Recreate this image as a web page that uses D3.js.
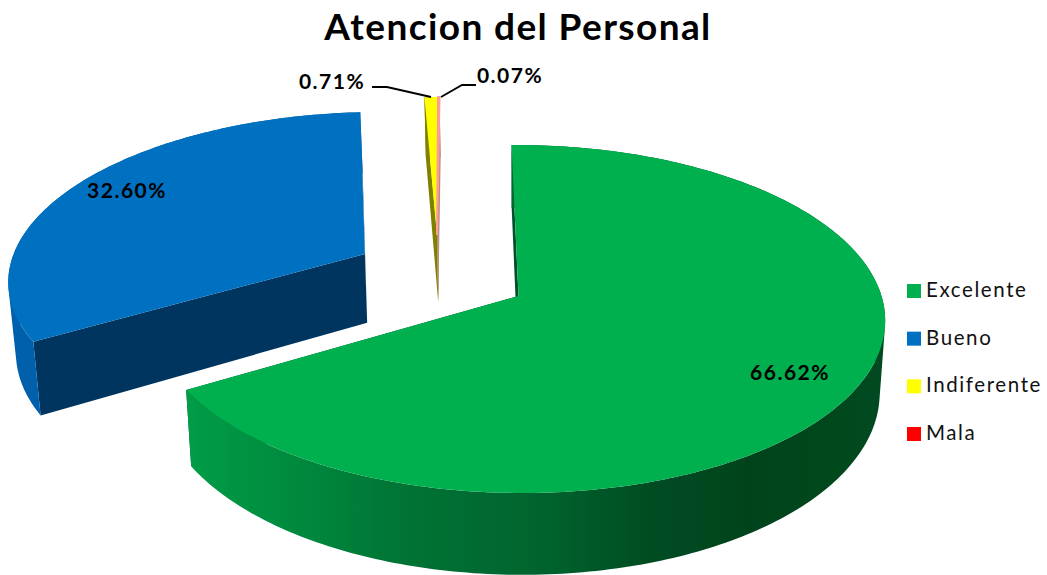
<!DOCTYPE html>
<html>
<head>
<meta charset="utf-8">
<script src="https://cdn.jsdelivr.net/npm/d3@7"></script>
<style>
html, body { margin: 0; padding: 0; background: #fff; overflow: hidden; }
svg { display: block; }
text { font-family: Lato, "Open Sans", sans-serif; fill: #000; }
.title { font-size: 37px; font-weight: 700; letter-spacing: 1.4px; }
.pct { font-size: 21px; font-weight: 700; letter-spacing: 1.5px; }
.legend text { font-size: 20.5px; letter-spacing: 1.6px; fill: #111; }
</style>
</head>
<body>
<svg width="1047" height="575"></svg>
<script>
// Data
var categories = ["Excelente", "Bueno", "Indiferente", "Mala"];
var values = [66.62, 32.60, 0.71, 0.07];
var colors = ["#00B050", "#0070C0", "#FFFF00", "#FF0000"];
var wallColors = ["#00502A", "#003660", "#808000", "#B89080"];
var rimColors = ["url(#rimGreen)", "#0061AC", "#808000", "#B89080"];

// The svg
var svg = d3.select("svg");

// Tilted disc with some perspective, the far side is smaller
var cx = 518.5, cy = 296, rx = 363, ry = 171, persp = 0.132, shear = 0.02;
var depth = 71, shrink = 0.985;

function project(px, py) {
    var s = 1 / (1 + persp * py);
    var y = -ry * py * s;
    return [cx + rx * px * s + shear * y, cy + y, s];
}

// bottom face sits lower and slightly narrower
function projectBottom(px, py) {
    var p = project(px, py);
    return [cx + (p[0] - cx) * shrink, p[1] + depth * p[2]];
}

// slices pulled out of the pie, in disc units
var offsets = [[0, 0], [-0.435, 0.254], [-0.232, 0.375], [-0.232, 0.375]];

var pie = d3.pie().sort(null).value(function(d) { return d; })
    .startAngle(-0.7 * Math.PI / 180)
    .endAngle(359.3 * Math.PI / 180);
var slices = pie(values);

var line = d3.line();

function rimPoint(a, off) {
    return [off[0] + Math.sin(a), off[1] + Math.cos(a)];
}

function arcAngles(d) {
    var n = Math.max(2, Math.ceil((d.endAngle - d.startAngle) * 60));
    return d3.range(n + 1).map(function(i) {
        return d.startAngle + (d.endAngle - d.startAngle) * i / n;
    });
}

function topPath(d, i) {
    var off = offsets[i];
    var pts = [project(off[0], off[1])];
    arcAngles(d).forEach(function(a) {
        var q = rimPoint(a, off);
        pts.push(project(q[0], q[1]));
    });
    return line(pts.map(function(p) { return [p[0], p[1]]; })) + "Z";
}

// one quad per arc step, all wound the same way so the silhouette stays closed
function rimPath(d, i) {
    var off = offsets[i];
    var angles = arcAngles(d);
    var out = "";
    d3.pairs(angles).forEach(function(pair) {
        var q0 = rimPoint(pair[0], off), q1 = rimPoint(pair[1], off);
        var quad = [project(q0[0], q0[1]), project(q1[0], q1[1]),
            projectBottom(q1[0], q1[1]), projectBottom(q0[0], q0[1])]
            .map(function(p) { return [p[0], p[1]]; });
        if (d3.polygonArea(quad) < 0) quad.reverse();
        out += line(quad) + "Z";
    });
    return out;
}

function wallPath(d, i, a) {
    var off = offsets[i];
    var q = rimPoint(a, off);
    var pts = [project(off[0], off[1]), project(q[0], q[1]),
        projectBottom(q[0], q[1]), projectBottom(off[0], off[1])];
    return line(pts.map(function(p) { return [p[0], p[1]]; })) + "Z";
}

// gradient on the green side
var defs = svg.append("defs");
var grad = defs.append("linearGradient")
    .attr("id", "rimGreen")
    .attr("gradientUnits", "userSpaceOnUse")
    .attr("x1", 190).attr("x2", 890).attr("y1", 0).attr("y2", 0);
[[0, "#009C46"], [0.15, "#008A3E"], [0.3, "#007434"], [0.5, "#00642E"], [0.66, "#004C22"], [0.8, "#00431D"], [1, "#004A20"]]
    .forEach(function(s) {
        grad.append("stop").attr("offset", s[0]).attr("stop-color", s[1]);
    });
defs.append("filter").attr("id", "soft")
    .attr("x", "-5%").attr("y", "-5%").attr("width", "110%").attr("height", "110%")
    .append("feGaussianBlur").attr("stdDeviation", 0.6);

var pieGroup = svg.append("g").attr("filter", "url(#soft)");

// back to front
[1, 2, 3, 0].forEach(function(i) {
    var d = slices[i];
    var g = pieGroup.append("g");
    g.append("path").attr("d", wallPath(d, i, d.startAngle)).attr("fill", wallColors[i]);
    g.append("path").attr("d", wallPath(d, i, d.endAngle)).attr("fill", wallColors[i]);
    g.append("path").attr("d", rimPath(d, i)).attr("fill", rimColors[i]);
    var face = g.append("path").attr("d", topPath(d, i)).attr("fill", colors[i]);
    // the last slice is thinner than a pixel
    if (i == 3) {
        face.attr("fill", "#FF9A9A").attr("stroke", "#FF9A9A").attr("stroke-width", 2);
    }
});

// Leader lines
var leaders = [
    [[372, 87], [387, 87], [431, 97]],
    [[441, 97], [462, 85], [476, 85]]
];
svg.selectAll(".leader")
    .data(leaders)
    .enter()
    .append("path")
    .attr("class", "leader")
    .attr("d", function(d) { return line(d); })
    .attr("fill", "none")
    .attr("stroke", "#000")
    .attr("stroke-width", 1.8);

// Labels
var fmt = function(v) { return d3.format(".2f")(v) + "%"; };
var labelPos = [[790, 380], [127, 198], [332, 89], [510, 83]];

svg.selectAll(".pct")
    .data(values)
    .enter()
    .append("text")
    .attr("class", "pct")
    .attr("text-anchor", "middle")
    .attr("x", function(d, i) { return labelPos[i][0]; })
    .attr("y", function(d, i) { return labelPos[i][1]; })
    .text(fmt);

// Title
svg.append("text")
    .attr("class", "title")
    .attr("text-anchor", "middle")
    .attr("x", 518)
    .attr("y", 40)
    .text("Atencion del Personal");

// Legend
var legendY = d3.scalePoint().domain(categories).range([291, 434]);
var legenditem = svg.append("g")
    .attr("class", "legend")
    .selectAll("g")
    .data(categories)
    .enter()
    .append("g")
    .attr("transform", function(d) { return "translate(907," + legendY(d) + ")"; });

legenditem.append("rect")
    .attr("x", 0)
    .attr("y", -7)
    .attr("width", 14)
    .attr("height", 14)
    .attr("fill", function(d, i) { return colors[i]; });

legenditem.append("text")
    .attr("x", 19)
    .attr("y", 6)
    .text(function(d) { return d; });
</script>
</body>
</html>
